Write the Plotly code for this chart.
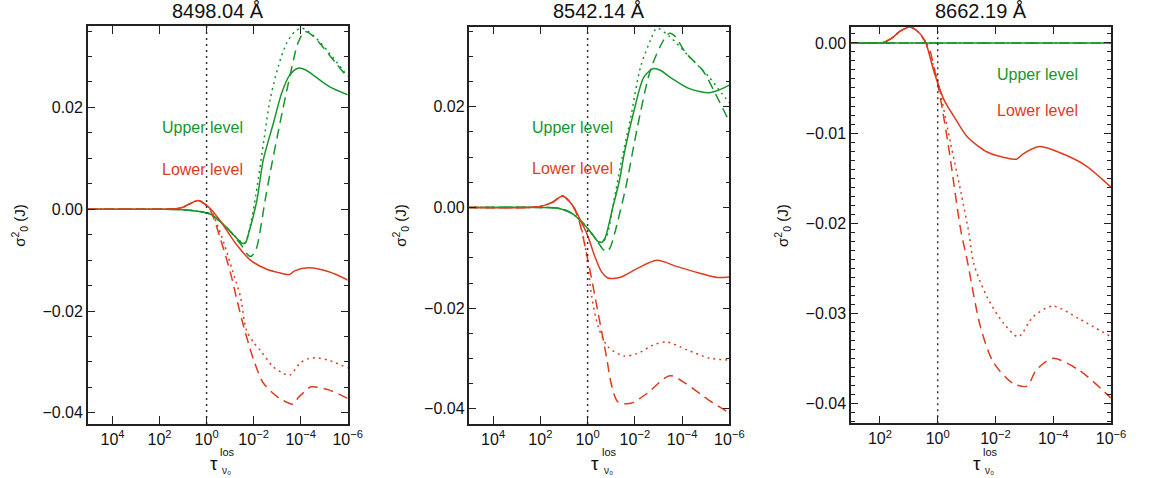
import numpy as np
import plotly.graph_objects as go

W, H = 1150, 478

titles = ["8498.04 Å", "8542.14 Å", "8662.19 Å"]
upper_label = "Upper level"
lower_label = "Lower level"

# ---------------- Panel 1 (8498.04) : log10(tau) and sigma values ----------------
p1_red_solid_lt = [5.05, 2.0, 1.3, 1.0, 0.7, 0.35, 0.1, -0.18, -0.6, -1.23, -1.86, -2.56, -3.1, -3.39, -3.54, -3.74, -4.36, -5.2, -6.0]
p1_red_solid_y = [0, 0, 0.0001, 0.0004, 0.0011, 0.0017, 0.0011, 0.0, -0.0024, -0.0067, -0.0100, -0.0118, -0.0125, -0.0128, -0.0128, -0.0121, -0.0115, -0.0123, -0.0139]

p1_red_dot_lt = [5.05, 2.0, 1.3, 1.0, 0.7, 0.35, 0.1, -0.18, -0.45, -0.74, -1.09, -1.44, -1.69, -2.0, -2.28, -2.84, -3.2, -3.54, -3.96, -4.3, -4.66, -5.2, -6.0]
p1_red_dot_y = [0, 0, 0.0001, 0.0004, 0.0011, 0.0017, 0.0011, -0.0002, -0.0030, -0.0067, -0.0119, -0.0172, -0.0237, -0.0262, -0.0277, -0.0310, -0.0321, -0.0326, -0.0303, -0.0294, -0.0292, -0.0297, -0.0312]

p1_red_dash_lt = [5.05, 2.0, 1.3, 1.0, 0.7, 0.35, 0.1, -0.18, -0.6, -1.02, -1.3, -1.58, -2.0, -2.42, -3.11, -3.68, -3.75, -3.9, -4.16, -4.44, -5.2, -6.0]
p1_red_dash_y = [0, 0, 0.0001, 0.0004, 0.0011, 0.0017, 0.0011, -0.0004, -0.0060, -0.0126, -0.0180, -0.0231, -0.0296, -0.0342, -0.0372, -0.0383, -0.0380, -0.0370, -0.0359, -0.0349, -0.0355, -0.0372]

p1_grn_solid_lt = [5.05, 2.0, 1.0, 0.38, -0.18, -0.74, -1.16, -1.51, -1.65, -1.79, -2.14, -2.41, -2.84, -3.19, -3.54, -3.89, -4.2, -4.52, -5.22, -6.0]
p1_grn_solid_y = [0, 0, -0.0001, -0.0004, -0.0010, -0.0031, -0.0051, -0.0067, -0.0066, -0.0047, 0.0018, 0.0097, 0.0169, 0.0228, 0.0264, 0.0277, 0.0274, 0.0264, 0.0241, 0.0225]

p1_grn_dot_lt = [5.05, 2.0, 1.0, 0.38, -0.18, -0.74, -1.16, -1.5, -1.62, -1.8, -2.1, -2.45, -2.7, -3.05, -3.4, -3.75, -4.03, -4.3, -4.66, -5.22, -6.0]
p1_grn_dot_y = [0, 0, -0.0001, -0.0004, -0.0010, -0.0031, -0.0051, -0.0065, -0.0066, -0.0044, 0.0030, 0.0140, 0.0215, 0.0281, 0.0326, 0.0349, 0.0356, 0.0350, 0.0336, 0.0307, 0.0261]

p1_grn_dash_lt = [5.05, 2.0, 1.0, 0.38, -0.18, -0.74, -1.16, -1.5, -1.7, -1.86, -2.0, -2.14, -2.49, -2.7, -3.12, -3.54, -3.89, -4.17, -4.4, -4.79, -5.5, -6.0]
p1_grn_dash_y = [0, 0, -0.0001, -0.0004, -0.0010, -0.0031, -0.0052, -0.0072, -0.0087, -0.0093, -0.0088, -0.0074, 0.0018, 0.0071, 0.0169, 0.0261, 0.0327, 0.0349, 0.0345, 0.0327, 0.0287, 0.0258]

# ---------------- Panel 2 (8542.14) ----------------
p2_red_solid_lt = [5.05, 2.5, 2.0, 1.5, 1.06, 0.65, 0.37, 0.03, -0.31, -0.59, -0.85, -1.1, -1.42, -2.11, -2.93, -3.76, -4.72, -5.5, -6.0]
p2_red_solid_y = [0, 0, 0.0002, 0.0010, 0.0023, 0.0005, -0.0019, -0.0052, -0.0098, -0.0128, -0.0140, -0.0141, -0.0138, -0.0121, -0.0105, -0.0117, -0.0130, -0.0139, -0.0138]

p2_red_dot_lt = [5.05, 2.5, 2.0, 1.5, 1.06, 0.65, 0.37, 0.1, -0.18, -0.45, -0.87, -1.55, -2.11, -2.79, -3.35, -4.17, -5.14, -6.0]
p2_red_dot_y = [0, 0, 0.0002, 0.0010, 0.0023, 0.0005, -0.0022, -0.0078, -0.0178, -0.0237, -0.0277, -0.0295, -0.0290, -0.0273, -0.0267, -0.0282, -0.0299, -0.0303]

p2_red_dash_lt = [5.05, 2.5, 2.0, 1.5, 1.06, 0.65, 0.37, -0.04, -0.45, -0.8, -1.0, -1.28, -1.83, -2.52, -3.48, -4.17, -5.14, -6.0]
p2_red_dash_y = [0, 0, 0.0002, 0.0010, 0.0023, 0.0005, -0.0025, -0.0111, -0.0211, -0.0297, -0.0350, -0.0386, -0.0389, -0.0369, -0.0334, -0.0350, -0.0383, -0.0408]

p2_grn_solid_lt = [5.05, 2.0, 1.2, 0.65, 0.24, -0.18, -0.45, -0.6, -0.73, -1.07, -1.35, -1.55, -1.97, -2.38, -2.79, -3.1, -3.48, -4.31, -5.14, -5.55, -6.0]
p2_grn_solid_y = [0, 0, -0.0002, -0.0012, -0.0029, -0.0052, -0.0068, -0.0069, -0.0062, 0.0001, 0.0054, 0.0107, 0.0193, 0.0259, 0.0276, 0.0272, 0.0259, 0.0236, 0.0228, 0.0233, 0.0243]

p2_grn_dot_lt = [5.05, 2.0, 1.2, 0.65, 0.24, -0.18, -0.45, -0.6, -0.8, -1.1, -1.4, -1.83, -2.24, -2.66, -2.93, -3.48, -4.31, -5.14, -5.69, -6.0]
p2_grn_dot_y = [0, 0, -0.0002, -0.0012, -0.0029, -0.0052, -0.0068, -0.0069, -0.0058, 0.0010, 0.0085, 0.0180, 0.0279, 0.0332, 0.0356, 0.0339, 0.0299, 0.0259, 0.0226, 0.0208]

p2_grn_dash_lt = [5.05, 2.0, 1.2, 0.65, 0.24, -0.18, -0.45, -0.65, -0.8, -0.95, -1.14, -1.62, -2.11, -2.66, -3.21, -3.48, -3.7, -4.17, -4.86, -5.41, -6.0]
p2_grn_dash_y = [0, 0, -0.0002, -0.0012, -0.0029, -0.0052, -0.0070, -0.0083, -0.0088, -0.0080, -0.0052, 0.0041, 0.0160, 0.0273, 0.0332, 0.0346, 0.0340, 0.0306, 0.0273, 0.0226, 0.0170]

# ---------------- Panel 3 (8662.19) ----------------
p3_red_solid_lt = [3.0, 2.2, 1.93, 1.6, 1.3, 0.97, 0.7, 0.45, 0.11, -0.23, -0.57, -1.02, -1.71, -2.3, -2.73, -2.96, -3.53, -4.32, -5.12, -6.0]
p3_red_solid_y = [0, 0, 0.0, 0.0005, 0.0013, 0.00177, 0.0013, 0.0003, -0.0034, -0.0064, -0.0082, -0.0104, -0.0121, -0.0127, -0.0129, -0.0123, -0.0115, -0.0123, -0.0136, -0.0160]

p3_red_dot_lt = [3.0, 2.2, 1.93, 1.6, 1.3, 0.97, 0.7, 0.45, 0.2, 0.0, -0.45, -0.8, -1.08, -1.25, -1.71, -2.28, -2.79, -3.3, -3.98, -4.89, -6.0]
p3_red_dot_y = [0, 0, 0.0, 0.0005, 0.0013, 0.00177, 0.0013, 0.0002, -0.0020, -0.0042, -0.0112, -0.0165, -0.0211, -0.0245, -0.0282, -0.0311, -0.0326, -0.0304, -0.0292, -0.0306, -0.0326]

p3_red_dash_lt = [3.0, 2.2, 1.93, 1.6, 1.3, 0.97, 0.7, 0.45, 0.3, 0.11, 0.0, -0.34, -0.8, -1.02, -1.48, -1.94, -2.62, -3.07, -3.2, -3.41, -3.98, -4.89, -6.0]
p3_red_dash_y = [0, 0, 0.0, 0.0005, 0.0013, 0.00177, 0.0013, 0.0002, -0.0005, -0.0030, -0.0045, -0.0108, -0.0208, -0.0241, -0.0315, -0.0355, -0.0378, -0.0381, -0.0376, -0.0363, -0.0350, -0.0363, -0.0394]

p3_grn_lt = [3.0, -6.0]
p3_grn_y = [0.0, 0.0]

# ---------------- axes setup ----------------
xranges = [[5.05, -6.0], [5.0, -6.0], [3.0, -6.0]]
yranges = [[-0.0422, 0.0360], [-0.0430, 0.0359], [-0.0422, 0.0018]]
ydticks = [0.02, 0.02, 0.01]
yminor = [0.005, 0.005, 0.001]
xtickvals = [[1e4, 1e2, 1e0, 1e-2, 1e-4, 1e-6], [1e4, 1e2, 1e0, 1e-2, 1e-4, 1e-6], [1e2, 1e0, 1e-2, 1e-4, 1e-6]]
xticktext = [["10<sup>4</sup>", "10<sup>2</sup>", "10<sup>0</sup>", "10<sup>−2</sup>", "10<sup>−4</sup>", "10<sup>−6</sup>"],
             ["10<sup>4</sup>", "10<sup>2</sup>", "10<sup>0</sup>", "10<sup>−2</sup>", "10<sup>−4</sup>", "10<sup>−6</sup>"],
             ["10<sup>2</sup>", "10<sup>0</sup>", "10<sup>−2</sup>", "10<sup>−4</sup>", "10<sup>−6</sup>"]]
label_pos = [(2.0, 0.0160, 0.0079), (2.44, 0.0158, 0.0078), (-2.0, -0.0035, -0.0075)]

# pixel boxes of plots (left, right, top, bottom)
boxes = [(89, 352.3, 26, 424), (475.7, 739, 26.7, 424), (862.3, 1125.7, 26.7, 423.3)]

GREEN = "#17962c"
RED = "#dd3c1e"
FONT = "Liberation Sans, Arial, Helvetica, sans-serif"

panels = [
    [(p1_grn_solid_lt, p1_grn_solid_y, GREEN, "solid"), (p1_grn_dot_lt, p1_grn_dot_y, GREEN, "2px,4px"), (p1_grn_dash_lt, p1_grn_dash_y, GREEN, "10px,6px"),
     (p1_red_solid_lt, p1_red_solid_y, RED, "solid"), (p1_red_dot_lt, p1_red_dot_y, RED, "2px,4px"), (p1_red_dash_lt, p1_red_dash_y, RED, "10px,6px")],
    [(p2_grn_solid_lt, p2_grn_solid_y, GREEN, "solid"), (p2_grn_dot_lt, p2_grn_dot_y, GREEN, "2px,4px"), (p2_grn_dash_lt, p2_grn_dash_y, GREEN, "10px,6px"),
     (p2_red_solid_lt, p2_red_solid_y, RED, "solid"), (p2_red_dot_lt, p2_red_dot_y, RED, "2px,4px"), (p2_red_dash_lt, p2_red_dash_y, RED, "10px,6px")],
    [(p3_red_solid_lt, p3_red_solid_y, RED, "solid"), (p3_red_dot_lt, p3_red_dot_y, RED, "2px,4px"), (p3_red_dash_lt, p3_red_dash_y, RED, "10px,6px"),
     (p3_grn_lt, p3_grn_y, GREEN, "2px,4px"), (p3_grn_lt, p3_grn_y, GREEN, "10px,6px"), (p3_grn_lt, p3_grn_y, GREEN, "solid")],
]

fig = go.Figure()
layout = dict(width=W, height=H, margin=dict(l=0, r=0, t=0, b=0),
              paper_bgcolor="white", plot_bgcolor="white", showlegend=False,
              font=dict(family=FONT, color="#111"))
annotations = []

for i in range(3):
    sfx = "" if i == 0 else str(i + 1)
    xa, ya = "x" + sfx, "y" + sfx
    l, r, t, b = boxes[i]
    layout["xaxis" + sfx] = dict(
        type="log", range=xranges[i], domain=[l / W, r / W], anchor=ya,
        showline=True, linecolor="#222", linewidth=1.5, mirror="ticks",
        ticks="inside", ticklen=8, tickwidth=1.2, tickcolor="#222",
        tickvals=xtickvals[i], ticktext=xticktext[i], tickfont=dict(size=16),
        showgrid=False, zeroline=False)
    layout["yaxis" + sfx] = dict(
        range=yranges[i], domain=[1 - b / H, 1 - t / H], anchor=xa,
        showline=True, linecolor="#222", linewidth=1.5, mirror="ticks",
        ticks="inside", ticklen=7, tickwidth=1.2, tickcolor="#222",
        dtick=ydticks[i], tick0=0, tickformat=".2f", tickfont=dict(size=16),
        minor=dict(dtick=yminor[i], ticks="inside", ticklen=4, tickcolor="#222", showgrid=False),
        showgrid=False, zeroline=False)

    for lt, yv, col, dash in panels[i]:
        fig.add_trace(go.Scatter(x=np.power(10.0, lt), y=yv, mode="lines", xaxis=xa, yaxis=ya,
                                 line=dict(color=col, width=1.5, dash=dash, shape="spline", smoothing=0.8),
                                 hoverinfo="skip"))
    # vertical dotted line at tau = 1
    fig.add_trace(go.Scatter(x=[1.0, 1.0], y=yranges[i], mode="lines", xaxis=xa, yaxis=ya,
                             line=dict(color="#333", width=1.5, dash="2px,4px"), hoverinfo="skip"))

    lx, uy, ly = label_pos[i]
    annotations.append(dict(x=lx, y=uy, xref=xa, yref=ya, text=upper_label, showarrow=False,
                            xanchor="left", yanchor="middle", font=dict(size=16, color=GREEN)))
    annotations.append(dict(x=lx, y=ly, xref=xa, yref=ya, text=lower_label, showarrow=False,
                            xanchor="left", yanchor="middle", font=dict(size=16, color=RED)))

    cx = (l + r) / 2
    annotations.append(dict(x=cx / W, y=1 - 11 / H, xref="paper", yref="paper", text=titles[i],
                            showarrow=False, xanchor="center", yanchor="middle", font=dict(size=20)))
    # x-axis title tau^los_nu0
    annotations.append(dict(x=(cx - 4) / W, y=1 - 463 / H, xref="paper", yref="paper", text="τ",
                            showarrow=False, xanchor="center", yanchor="middle", font=dict(size=19)))
    annotations.append(dict(x=(cx + 10) / W, y=1 - 452 / H, xref="paper", yref="paper", text="los",
                            showarrow=False, xanchor="center", yanchor="middle", font=dict(size=11)))
    annotations.append(dict(x=(cx + 9) / W, y=1 - 470 / H, xref="paper", yref="paper", text="ν₀",
                            showarrow=False, xanchor="center", yanchor="middle", font=dict(size=10)))
    # y-axis title sigma^2_0 (J)
    annotations.append(dict(x=(l - 70) / W, y=1 - ((t + b) / 2) / H, xref="paper", yref="paper",
                            text="σ<sup>2</sup><sub>0</sub> (J)", textangle=-90,
                            showarrow=False, xanchor="center", yanchor="middle", font=dict(size=15)))

layout["annotations"] = annotations
fig.update_layout(**layout)
fig.write_html("out.html")
